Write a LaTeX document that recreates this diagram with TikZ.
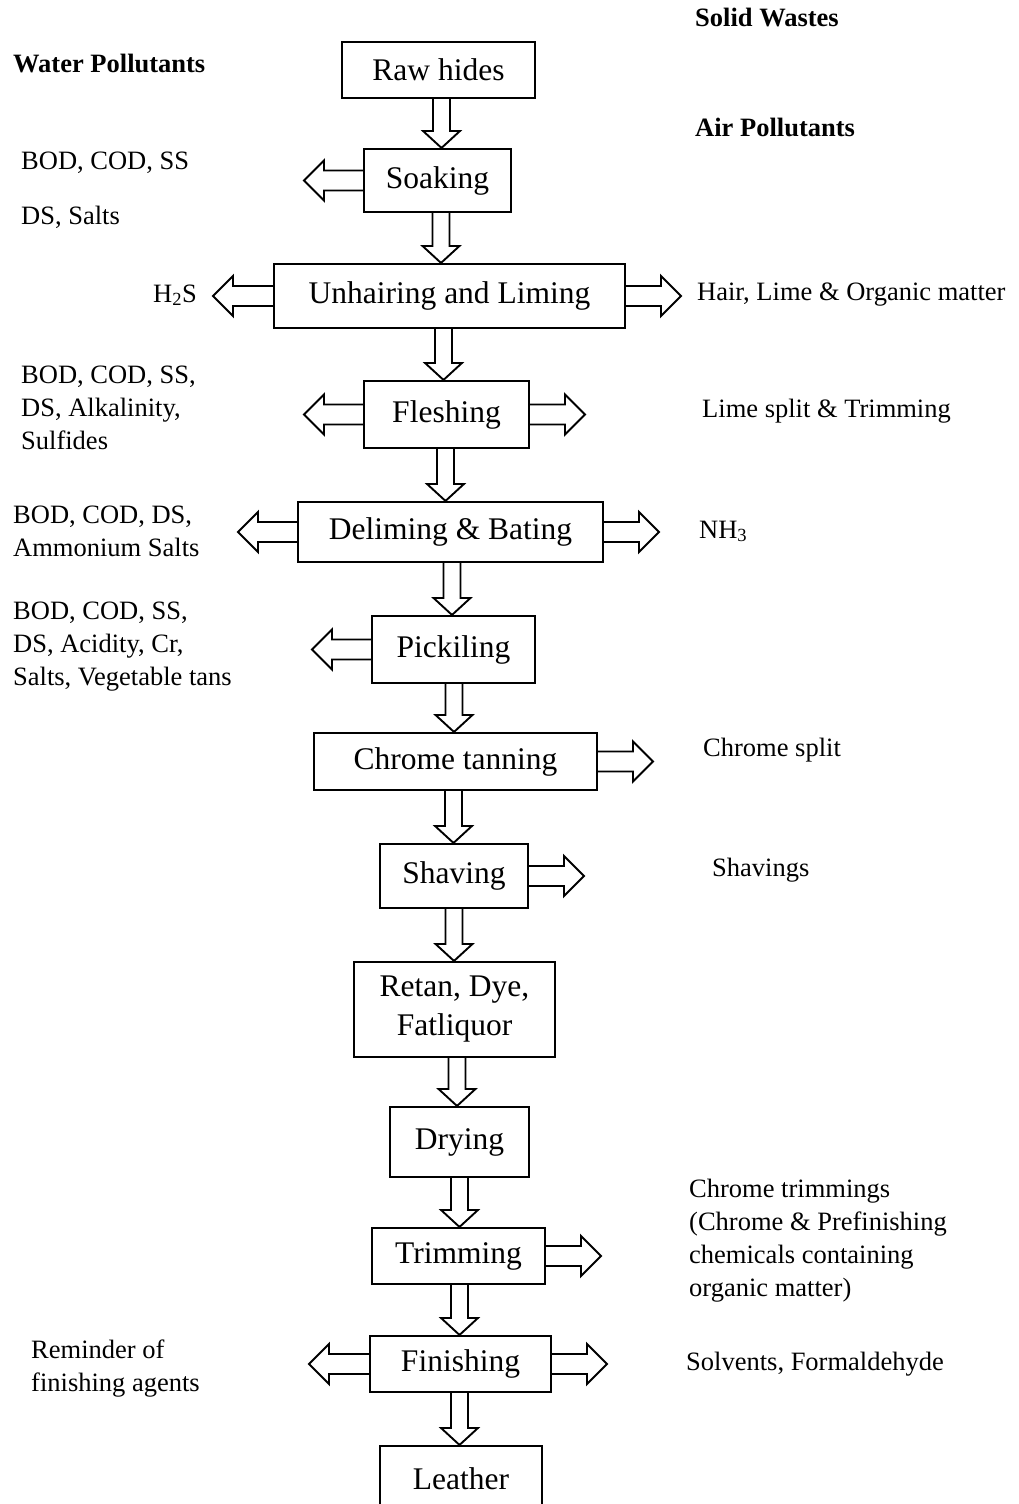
\documentclass[tikz,border=0pt]{standalone}
\usepackage{fontspec}
\setmainfont{Liberation Serif}
\usetikzlibrary{calc}
\tikzset{
  box/.style={draw, line width=2.1pt, inner sep=0pt, align=center,
    font=\fontsize{31.5}{39}\selectfont},
  fat/.style={draw, line width=1.9pt, line join=miter},
  side/.style={anchor=base west, inner sep=0pt, font=\fontsize{26.5}{33}\selectfont},
  headtxt/.style={anchor=base west, inner sep=0pt, font=\fontsize{26.5}{33}\selectfont\bfseries},
}
% vertical fat arrow: x centre, from node, to node
\newcommand\dnarrow[3]{\draw[fat] let \p1=(#2.south), \p2=(#3.north) in
  ({#1pt-8.5pt},\y1) -- ({#1pt-8.5pt},{\y2+17pt}) -- ({#1pt-18.5pt},{\y2+17pt}) --
  (#1pt,\y2) -- ({#1pt+18.5pt},{\y2+17pt}) -- ({#1pt+8.5pt},{\y2+17pt}) -- ({#1pt+8.5pt},\y1);}
% left fat arrow: node, tip x
\newcommand\ltarrow[2]{\draw[fat] let \p1=(#1.west) in
  (\x1,{\y1+10pt}) -- ({#2pt+20pt},{\y1+10pt}) -- ({#2pt+20pt},{\y1+20pt}) --
  (#2pt,\y1) -- ({#2pt+20pt},{\y1-20pt}) -- ({#2pt+20pt},{\y1-10pt}) -- (\x1,{\y1-10pt});}
% right fat arrow: node, tip x
\newcommand\rtarrow[2]{\draw[fat] let \p1=(#1.east) in
  (\x1,{\y1+10pt}) -- ({#2pt-20pt},{\y1+10pt}) -- ({#2pt-20pt},{\y1+20pt}) --
  (#2pt,\y1) -- ({#2pt-20pt},{\y1-20pt}) -- ({#2pt-20pt},{\y1-10pt}) -- (\x1,{\y1-10pt});}
\newcommand\lines[1]{\begin{tabular}[t]{@{}l@{}}#1\end{tabular}}
\begin{document}
\begin{tikzpicture}[x=1pt,y=-1pt]
\useasboundingbox (0,0) rectangle (1019,1504);
% process boxes
\node[box, minimum width=193pt, minimum height=56pt] (raw)    at (438.5,70)   {Raw hides};
\node[box, minimum width=147pt, minimum height=63pt] (soak)   at (437.5,180.5){Soaking};
\node[box, minimum width=351pt, minimum height=64pt] (unhair) at (449.5,296)  {Unhairing and Liming};
\node[box, minimum width=165pt, minimum height=67pt] (flesh)  at (446.5,414.5){Fleshing};
\node[box, minimum width=305pt, minimum height=60pt] (delim)  at (450.5,532)  {Deliming \& Bating};
\node[box, minimum width=163pt, minimum height=67pt] (pick)   at (453.5,649.5){Pickiling};
\node[box, minimum width=283pt, minimum height=57pt] (chrome) at (455.5,761.5){Chrome tanning};
\node[box, minimum width=148pt, minimum height=64pt] (shav)   at (454,876)    {Shaving};
\node[box, minimum width=201pt, minimum height=95pt] (retan)  at (454.5,1009.5){Retan, Dye,\\Fatliquor};
\node[box, minimum width=139pt, minimum height=70pt] (dry)    at (459.5,1142) {Drying};
\node[box, minimum width=173pt, minimum height=56pt] (trim)   at (458.5,1256) {Trimming};
\node[box, minimum width=181pt, minimum height=56pt] (fin)    at (460.5,1364) {Finishing};
\node[box, minimum width=162pt, minimum height=66pt] (leather) at (461,1479)  {Leather};
% main flow
\dnarrow{441.5}{raw}{soak}
\dnarrow{441}{soak}{unhair}
\dnarrow{443.5}{unhair}{flesh}
\dnarrow{445.5}{flesh}{delim}
\dnarrow{452}{delim}{pick}
\dnarrow{454}{pick}{chrome}
\dnarrow{453.5}{chrome}{shav}
\dnarrow{454}{shav}{retan}
\dnarrow{457}{retan}{dry}
\dnarrow{459.5}{dry}{trim}
\dnarrow{459.5}{trim}{fin}
\dnarrow{459.5}{fin}{leather}
% side outputs
\ltarrow{soak}{304}
\ltarrow{unhair}{213}
\rtarrow{unhair}{681}
\ltarrow{flesh}{304}
\rtarrow{flesh}{585}
\ltarrow{delim}{238}
\rtarrow{delim}{659}
\ltarrow{pick}{312}
\rtarrow{chrome}{653}
\rtarrow{shav}{584}
\rtarrow{trim}{601}
\ltarrow{fin}{309}
\rtarrow{fin}{607}
% headings
\node[headtxt] (sw) at (695,27)  {Solid Wastes};
\node[headtxt] (wp) at (13,73)   {Water Pollutants};
\node[headtxt] (ap) at (695,136) {Air Pollutants};
% labels
\node[side] (l1)  at (21,169)  {BOD, COD, SS};
\node[side] (l2)  at (21,224)  {DS, Salts};
\node[side] (l3)  at (153,302) {H\textsubscript{2}S};
\node[side] (l4)  at (697,300) {Hair, Lime \& Organic matter};
\node[side] (l5)  at (21,383)  {\lines{BOD, COD, SS,\\DS, Alkalinity,\\Sulfides}};
\node[side] (l6)  at (702,417) {Lime split \& Trimming};
\node[side] (l7)  at (13,523)  {\lines{BOD, COD, DS,\\Ammonium Salts}};
\node[side] (l8)  at (699,538) {NH\textsubscript{3}};
\node[side] (l9)  at (13,619)  {\lines{BOD, COD, SS,\\DS, Acidity, Cr,\\Salts, Vegetable tans}};
\node[side] (l10) at (703,756) {Chrome split};
\node[side] (l11) at (712,876) {Shavings};
\node[side] (l12) at (689,1197){\lines{Chrome trimmings\\(Chrome \& Prefinishing\\chemicals containing\\organic matter)}};
\node[side] (l13) at (686,1370){Solvents, Formaldehyde};
\node[side] (l14) at (31,1358) {\lines{Reminder of\\finishing agents}};
\end{tikzpicture}
\end{document}
